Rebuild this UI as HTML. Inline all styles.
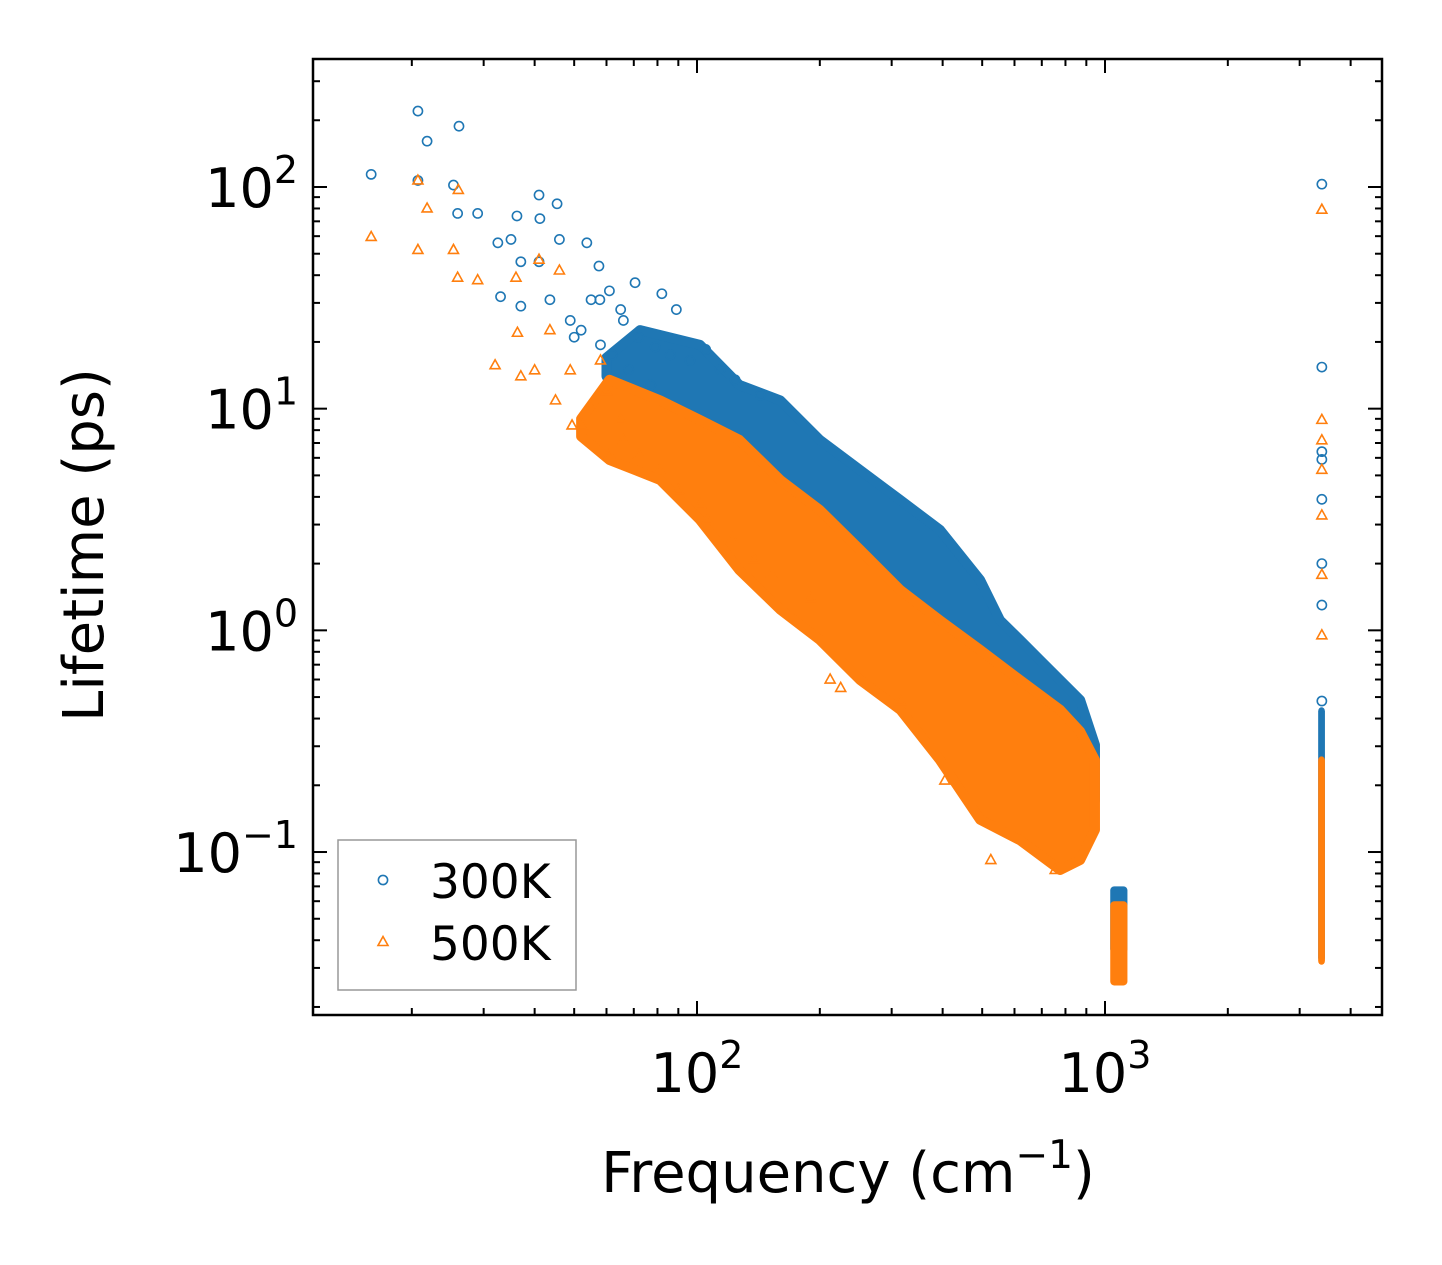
<!DOCTYPE html>
<html><head><meta charset="utf-8">
<style>
html,body{margin:0;padding:0;background:#fff;}
svg{display:block;font-family:"DejaVu Sans","Liberation Sans",sans-serif;}
</style></head>
<body>
<svg id="chart" width="1442" height="1265" viewBox="0 0 1442 1265" xmlns="http://www.w3.org/2000/svg">
<rect x="0" y="0" width="1442" height="1265" fill="#fff"/>
<g id="series"></g>
<g id="axes"></g>
</svg>
<script>
// ---- data ----
const xTickValues = [100, 1000];
const yTickValues = [0.1, 1, 10, 100];
const yTickExps = ["\u22121", "0", "1", "2"];
const xTickExps = ["2", "3"];

// dense bands (frequency, upper, lower)
const blueBandFreq = [60,72.5,101.7,127,160,200,251,315,394,494,553,619,693,776,869,945];
const blueBandUpper = [17,22.6,19.4,12.8,10.9,7.23,5.29,3.87,2.84,1.69,1.11,0.905,0.735,0.597,0.485,0.304];
const blueBandLower = [14,8,5,4,3,2,1.6,1.2,0.8,0.6,0.5,0.4,0.35,0.3,0.2,0.17];
const orangeBandFreq = [52,61,81.2,101.7,127,160,200,251,315,394,494,619,776,869,945];
const orangeBandUpper = [9,13.5,10.9,8.89,7.23,4.77,3.49,2.31,1.52,1.11,0.817,0.597,0.438,0.35,0.26];
const orangeBandLower = [7.5,5.87,4.77,3.15,1.87,1.24,0.905,0.597,0.438,0.26,0.14,0.113,0.083,0.092,0.126];

// clusters (freqMin, freqMax, lifeMin, lifeMax)
const blueClusters = [[1030,1135,0.035,0.07],[3330,3460,0.032,0.45]];
const orangeClusters = [[1030,1135,0.025,0.06],[3330,3460,0.031,0.27]];

// scattered points
const blueFreq = [15.9,20.7,21.8,20.7,26.1,25.3,25.9,29,32.5,36.2,41,41.2,45.4,53.7,57.5,70.5,82,89,46,41,37,57.8,43.6,48.9,33,35,37,50,65,
  55,61,66,72,79,86,96,105,114,124,143,52,58,62,68,77,
  3400,3400,3400,3400,3400,3400,3400,3400];
const blueLife = [114,220,161,107,188,102,76,76,56,74,92,72,84,56,44,37,33,28,58,46,46,31,31,25,32,58,29,21,28,
  31,34,25,21,19,17.5,16.5,18.5,15,13.5,11.5,22.6,19.4,17.5,15,12.8,
  103,15.4,6.4,3.9,5.9,2.0,1.3,0.48];
const orangeFreq = [15.9,20.7,21.8,20.7,26,25.3,25.9,29,32,36,36.3,37,41,40,43.6,46,48.9,49.4,52.5,61,45,
  58,60,55,65,66,72,81,90,102,106,122,138,152,190,212,225,315,405,525,755,
  3400,3400,3400,3400,3400,3400,3400];
const orangeLife = [59.5,107,80,52,97,52,39,38,15.7,39,22,14,47,14.9,22.6,42,14.9,8.4,8.4,6.2,10.9,
  16.5,12,10,8.9,7.2,6.2,5.3,4.3,3.7,3.15,2.6,2.1,1.8,1.4,0.6,0.55,0.48,0.21,0.092,0.083,
  79,8.9,7.2,5.3,3.3,1.78,0.95];

// ---- axes ----
const X0=313, X1=1382, Y0=59, Y1=1015;
const xMinL = 2-(697-X0)/408, xMaxL = 3+(X1-1105)/408;
const yMaxL = 2+(187-Y0)/221.7, yMinL = -1-(Y1-852)/221.7;
function xs(v){return X0+(Math.log10(v)-xMinL)/(xMaxL-xMinL)*(X1-X0);}
function ys(v){return Y1-(Math.log10(v)-yMinL)/(yMaxL-yMinL)*(Y1-Y0);}
const NS="http://www.w3.org/2000/svg";
function mk(tag,attrs,parent){const e=document.createElementNS(NS,tag);for(const k in attrs)e.setAttribute(k,attrs[k]);parent.appendChild(e);return e;}
const BLUE="#1f77b4", ORANGE="#ff7f0e";
const series=document.getElementById('series'), axes=document.getElementById('axes');

function band(fr,up,lo,color,name){
  let pts=[];
  for(let i=0;i<fr.length;i++)pts.push(xs(fr[i])+","+ys(up[i]));
  for(let i=fr.length-1;i>=0;i--)pts.push(xs(fr[i])+","+ys(lo[i]));
  const p=mk('polygon',{points:pts.join(' '),fill:color,stroke:color,'stroke-width':10,'stroke-linejoin':'round'},series);
  
  
}
function cluster(c,color,name){
  const r=mk('rect',{x:xs(c[0]),y:ys(c[3]),width:xs(c[1])-xs(c[0]),height:ys(c[2])-ys(c[3]),fill:color,rx:4},series);
  
  
}
function circ(x,y,parent){return mk('circle',{cx:x,cy:y,r:4.6,fill:'none',stroke:BLUE,'stroke-width':1.6},parent);}
function tri(x,y,parent){return mk('polygon',{points:`${x},${y-5.5} ${x-5},${y+3.5} ${x+5},${y+3.5}`,fill:'none',stroke:ORANGE,'stroke-width':1.6,'stroke-linejoin':'miter'},parent);}

band(blueBandFreq,blueBandUpper,blueBandLower,BLUE,'band-300k');
blueClusters.forEach(c=>cluster(c,BLUE,'cluster-300k'));
for(let i=0;i<blueFreq.length;i++){
  const m=circ(xs(blueFreq[i]),ys(blueLife[i]),series);
  
  
}
band(orangeBandFreq,orangeBandUpper,orangeBandLower,ORANGE,'band-500k');
orangeClusters.forEach(c=>cluster(c,ORANGE,'cluster-500k'));
for(let i=0;i<orangeFreq.length;i++){
  const m=tri(xs(orangeFreq[i]),ys(orangeLife[i]),series);
  
  
}

// frame
const fr=mk('rect',{x:X0,y:Y0,width:X1-X0,height:Y1-Y0,fill:'none',stroke:'#000','stroke-width':2.5},axes);


// ticks
function tickX(v,len){const x=xs(v);if(x<X0||x>X1)return;
  mk('line',{x1:x,y1:Y1,x2:x,y2:Y1-len,stroke:'#000','stroke-width':2},axes);
  mk('line',{x1:x,y1:Y0,x2:x,y2:Y0+len,stroke:'#000','stroke-width':2},axes);}
function tickY(v,len){const y=ys(v);if(y<Y0||y>Y1)return;
  mk('line',{x1:X0,y1:y,x2:X0+len,y2:y,stroke:'#000','stroke-width':2},axes);
  mk('line',{x1:X1,y1:y,x2:X1-len,y2:y,stroke:'#000','stroke-width':2},axes);}
for(let d=1;d<=1000;d*=10)for(let m=1;m<10;m++)tickX(m*d,m===1?14:7);
for(let d=0.01;d<=100;d*=10)for(let m=1;m<10;m++)tickY(+(m*d).toPrecision(3),m===1?14:7);

function label(x,y,exp,anchor,name){
  const t=mk('text',{x:x,y:y,'font-size':54,'text-anchor':anchor,fill:'#000'},axes);
  
  
  t.appendChild(document.createTextNode('10'));
  const s=mk('tspan',{'font-size':38,dy:-24},t);
  s.textContent=exp;
}
xTickValues.forEach((v,i)=>label(xs(v),1092,xTickExps[i],'middle','x-tick-label'));
yTickValues.forEach((v,i)=>label(298,ys(v)+20,yTickExps[i],'end','y-tick-label'));

const xt=mk('text',{x:848,y:1192,'font-size':56,'text-anchor':'middle',fill:'#000'},axes);


xt.appendChild(document.createTextNode('Frequency (cm'));
const sup=mk('tspan',{'font-size':39,dy:-24},xt);sup.textContent='\u22121';
const cp=mk('tspan',{dy:24,'font-size':56},xt);cp.textContent=')';

const yt=mk('text',{x:0,y:0,'font-size':56,'text-anchor':'middle',fill:'#000',transform:'translate(103,545) rotate(-90)'},axes);


yt.textContent='Lifetime (ps)';

// legend
const lg=mk('g',{},axes);


mk('rect',{x:338,y:840,width:238,height:150,fill:'#fff',stroke:'#999','stroke-width':1.5},lg);
const e1=mk('g',{},lg);


circ(383,880,e1);
const t1=mk('text',{x:430,y:898,'font-size':47,fill:'#000'},e1);t1.textContent='300K';
const e2=mk('g',{},lg);


tri(383,942,e2);
const t2=mk('text',{x:430,y:960,'font-size':47,fill:'#000'},e2);t2.textContent='500K';
</script>
</body></html>
